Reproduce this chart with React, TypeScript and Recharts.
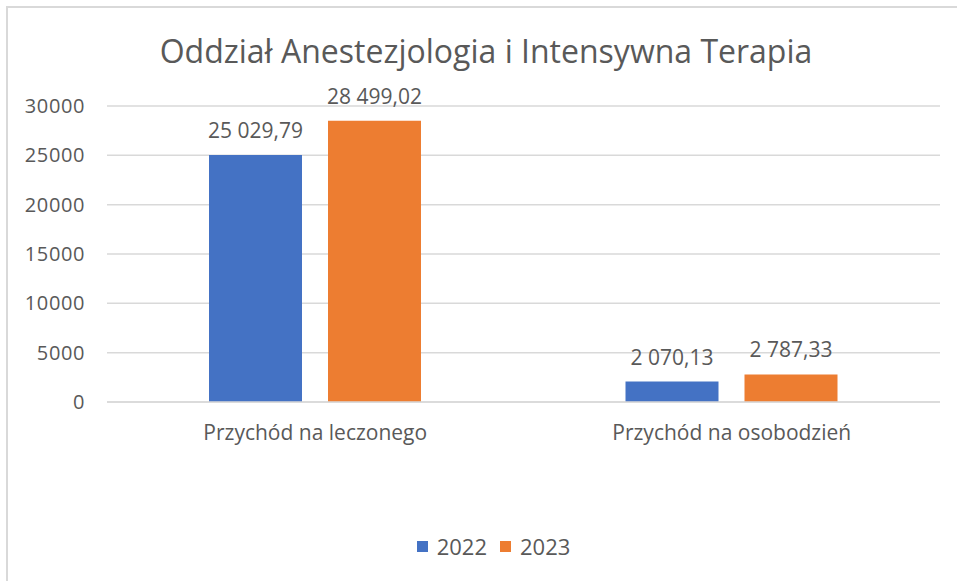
import React from "react";
import { BarChart, Bar, XAxis, YAxis, CartesianGrid, LabelList, Legend } from "recharts";

const categories = ["Przychód na leczonego", "Przychód na osobodzień"];
const values2022 = [25029.79, 2070.13];
const values2023 = [28499.02, 2787.33];
const yTicks = [0, 5000, 10000, 15000, 20000, 25000, 30000];
const seriesNames = ["2022", "2023"];
const seriesColors = ["#4472C4", "#ED7D31"];

const data = categories.map((c, i) => ({ name: c, s2022: values2022[i], s2023: values2023[i] }));

const FONT = "'Open Sans', sans-serif";
const TEXT = "#595959";

const fmt = (v: number) => {
  const [int, dec] = v.toFixed(2).split(".");
  const grouped = int.replace(/\B(?=(\d{3})+(?!\d))/g, "\u00A0");
  return `${grouped},${dec}`;
};

const LegendContent = () => (
  <div style={{ display: "flex", justifyContent: "center", alignItems: "center", height: 20, fontFamily: FONT, fontSize: 22, color: TEXT, paddingLeft: 20 }}>
    {seriesNames.map((n, i) => (
      <div key={n} style={{ display: "flex", alignItems: "center", marginRight: i === 0 ? 13 : 0 }}>
        <span style={{ display: "inline-block", width: 11, height: 11, background: seriesColors[i], marginRight: 9 }} />
        <span>{n}</span>
      </div>
    ))}
  </div>
);

export default function App() {
  return (
    <div style={{ position: "absolute", left: 0, top: 0, width: 957, height: 581, background: "#fff", overflow: "hidden" }}>
      <div style={{ position: "absolute", left: 6, top: 6, width: 1000, height: 1000, borderTop: "2px solid #d9d9d9", borderLeft: "2px solid #d9d9d9", boxSizing: "border-box" }} />
      <div style={{ position: "absolute", left: 0, top: 30, width: 972, textAlign: "center", fontFamily: FONT, fontSize: 32, color: TEXT, lineHeight: "42px" }}>
        Oddział Anestezjologia i Intensywna Terapia
      </div>
      <BarChart
        width={957}
        height={581}
        data={data}
        margin={{ top: 106, right: 17, left: 27, bottom: 129 }}
        barSize={93}
        barGap={26}
        style={{ position: "absolute", left: 0, top: 0 }}
      >
        <CartesianGrid vertical={false} stroke="#d9d9d9" strokeWidth={1.5} />
        <XAxis
          dataKey="name"
          axisLine={{ stroke: "#d9d9d9", strokeWidth: 1.5 }}
          tickLine={false}
          tickSize={0}
          tickMargin={23}
          height={30}
          tick={{ fill: TEXT, fontSize: 21, fontFamily: FONT }}
        />
        <YAxis
          domain={[0, 30000]}
          ticks={yTicks}
          width={80}
          axisLine={false}
          tickLine={false}
          tickSize={0}
          tickMargin={22}
          tick={{ fill: TEXT, fontSize: 20, fontFamily: FONT, letterSpacing: 0.6 }}
          interval={0}
        />
        <Legend verticalAlign="bottom" content={<LegendContent />} wrapperStyle={{ bottom: 25, height: 20 }} />
        <Bar dataKey="s2022" name={seriesNames[0]} fill={seriesColors[0]} isAnimationActive={false}>
          <LabelList dataKey="s2022" position="top" offset={17} formatter={(v: any) => fmt(Number(v))} fill={TEXT} fontSize={21} fontFamily={FONT} />
        </Bar>
        <Bar dataKey="s2023" name={seriesNames[1]} fill={seriesColors[1]} isAnimationActive={false}>
          <LabelList dataKey="s2023" position="top" offset={17} formatter={(v: any) => fmt(Number(v))} fill={TEXT} fontSize={21} fontFamily={FONT} />
        </Bar>
      </BarChart>
    </div>
  );
}
